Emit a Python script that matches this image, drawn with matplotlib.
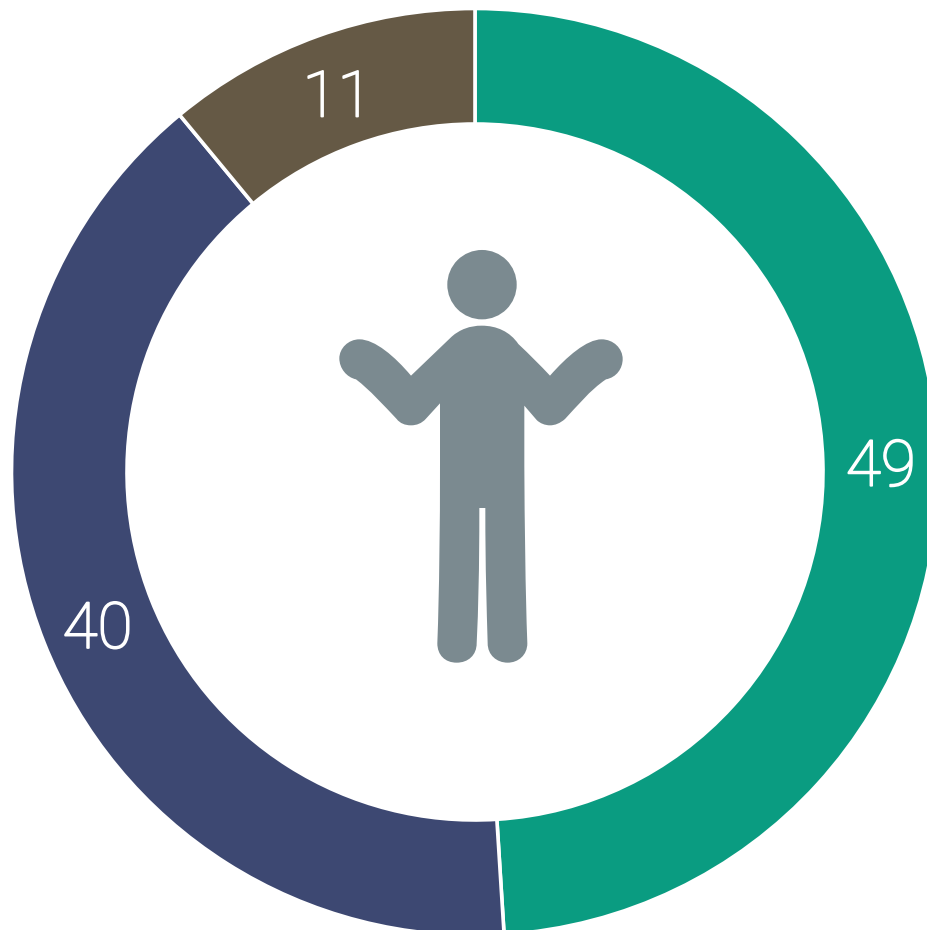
import matplotlib.pyplot as plt
import matplotlib.patheffects as pe
from matplotlib.patches import Circle, PathPatch
from matplotlib.path import Path

plt.rcParams['font.family'] = ['Roboto', 'DejaVu Sans']

W, H = 927, 930

# Chart data

values = [49, 40, 11]
colors = ['#0A9C81', '#3D4872', '#655945']

icon_color = '#7B8A90'

fig = plt.figure(figsize=(W / 100, H / 100), dpi=100)
ax = fig.add_axes([0, 0, 1, 1])

# Ring, going clockwise from the top

wedges, texts, labels = ax.pie(values, colors=colors, startangle=90, counterclock=False,
       center=(475, H - 472), radius=463.5,
       autopct=lambda p: f"{p:.0f}", pctdistance=406 / 463.5,
       wedgeprops={'width': 115.5, 'edgecolor': 'white', 'linewidth': 2.6},
       textprops={'color': 'white', 'fontsize': 46, 'fontweight': 'light'})

# Number labels sit a little lower than the pie puts them, the light face also needs some weight

for t in labels:
    t.set_y(t.get_position()[1] - 8.5)
    t.set_path_effects([pe.withStroke(linewidth=1.3, foreground='white')])

ax.set_xlim(0, W)
ax.set_ylim(0, H)
ax.set_aspect('equal')
ax.axis('off')

# Person icon, outline traced in the 3x zoom of the icon region

def to_px(x, y):
    return 330 + x / 3, H - (240 + y / 3)

start = (365, 290)
outline = [
    ('c', (390, 268), (420, 257), (455, 257)),
    ('c', (500, 257), (540, 275), (565, 312)),
    ('c', (600, 345), (630, 375), (660, 407)),
    ('c', (710, 350), (770, 298), (815, 298)),
    ('c', (850, 298), (878, 325), (878, 357)),
    ('c', (878, 385), (860, 412), (828, 418)),
    ('c', (780, 450), (740, 500), (705, 537)),
    ('c', (690, 550), (675, 556), (660, 556)),
    ('c', (645, 556), (630, 550), (620, 540)),
    ('l', (583, 497)),
    ('l', (583, 680)),
    ('c', (584, 850), (586, 1050), (592, 1210)),
    ('c', (592, 1245), (565, 1268), (533, 1268)),
    ('c', (500, 1268), (473, 1245), (473, 1210)),
    ('c', (470, 1100), (466, 1000), (466, 804)),
    ('l', (448, 804)),
    ('c', (448, 1000), (445, 1100), (440, 1210)),
    ('c', (440, 1245), (415, 1268), (380, 1268)),
    ('c', (345, 1268), (322, 1245), (322, 1210)),
    ('c', (328, 1050), (330, 850), (330, 680)),
    ('l', (330, 490)),
    ('l', (287, 537)),
    ('c', (275, 550), (260, 556), (243, 556)),
    ('c', (225, 556), (210, 550), (200, 537)),
    ('c', (160, 495), (120, 450), (78, 418)),
    ('c', (50, 412), (28, 385), (28, 355)),
    ('c', (28, 325), (55, 298), (88, 298)),
    ('c', (135, 298), (195, 350), (243, 407)),
    ('l', start),
]

verts = [to_px(*start)]
codes = [Path.MOVETO]
for seg in outline:
    pts = seg[1:]
    verts += [to_px(*p) for p in pts]
    codes += [Path.CURVE4] * 3 if seg[0] == 'c' else [Path.LINETO]

ax.add_patch(PathPatch(Path(verts, codes), facecolor=icon_color, edgecolor='none'))
ax.add_patch(Circle(to_px(456, 134), 34.7, facecolor=icon_color, edgecolor='none'))

fig.savefig('out.png', dpi=100, facecolor='white')
